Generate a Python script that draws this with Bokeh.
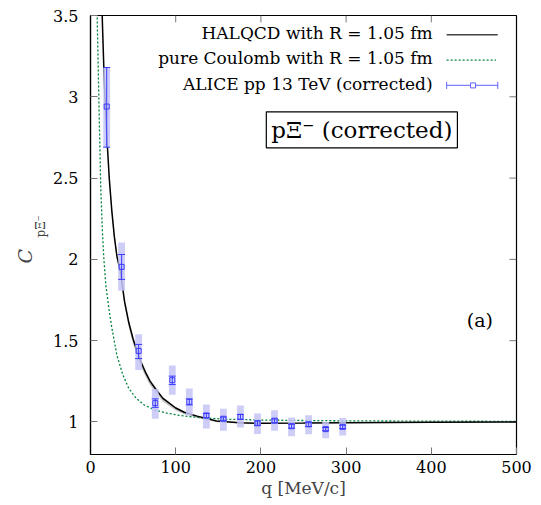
from bokeh.plotting import figure
from bokeh.models import Range1d, Label, FixedTicker, ColumnDataSource, Title
from bokeh.embed import file_html
from bokeh.resources import INLINE
import math

# ---------------- data ----------------
q_data = [19, 36.5, 56.5, 76, 96, 116, 136, 156, 176, 196, 216, 236, 256, 276, 296]
C_data = [2.94, 1.954, 1.437, 1.116, 1.257, 1.124, 1.04, 1.02, 1.032, 0.992, 1.008, 0.974, 0.986, 0.956, 0.97]
stat_lo = [2.69, 1.877, 1.39, 1.09, 1.23, 1.105, 1.026, 1.01, 1.016, 0.98, 0.996, 0.962, 0.972, 0.946, 0.96]
stat_hi = [3.18, 2.03, 1.477, 1.142, 1.282, 1.142, 1.052, 1.03, 1.046, 1.006, 1.018, 0.986, 0.998, 0.966, 0.98]
sys_lo = [2.69, 1.807, 1.32, 1.02, 1.167, 1.042, 0.96, 0.946, 0.966, 0.926, 0.946, 0.912, 0.924, 0.90, 0.917]
sys_hi = [3.18, 2.104, 1.54, 1.203, 1.347, 1.206, 1.108, 1.082, 1.102, 1.052, 1.072, 1.028, 1.042, 1.0, 1.024]

q_halqcd = [12, 14, 16, 18, 20, 22, 25, 28, 31, 35, 40, 45, 50, 55, 60, 65, 70, 76, 85, 100, 110, 125, 148, 175, 200, 250, 300, 400, 500]
C_halqcd = [3.85, 3.45, 3.12, 2.88, 2.68, 2.50, 2.30, 2.14, 2.02, 1.93, 1.74, 1.61, 1.51, 1.43, 1.36, 1.30, 1.25, 1.206, 1.145, 1.086, 1.06, 1.036, 1.006, 0.995, 0.992, 0.993, 0.995, 0.998, 1.0]
C_halqcd_lo = [3.83, 3.42, 3.09, 2.85, 2.65, 2.47, 2.27, 2.11, 1.99, 1.90, 1.71, 1.58, 1.48, 1.40, 1.33, 1.275, 1.225, 1.183, 1.125, 1.07, 1.047, 1.026, 0.999, 0.99, 0.989, 0.991, 0.994, 0.997, 1.0]
C_halqcd_hi = [3.87, 3.47, 3.14, 2.90, 2.70, 2.52, 2.32, 2.16, 2.04, 1.945, 1.755, 1.625, 1.525, 1.445, 1.375, 1.315, 1.262, 1.216, 1.153, 1.092, 1.065, 1.04, 1.009, 0.997, 0.993, 0.994, 0.996, 0.998, 1.0]

q_coulomb = [6, 7.8, 9.8, 12, 14, 15.6, 18, 21.5, 25, 31, 38, 45, 53, 62.5, 75, 88, 105, 129, 160, 200, 250, 300, 400, 500]
C_coulomb = [4.3, 3.5, 2.99, 2.45, 2.17, 2.01, 1.84, 1.70, 1.58, 1.41, 1.29, 1.206, 1.15, 1.106, 1.075, 1.056, 1.04, 1.026, 1.017, 1.012, 1.009, 1.007, 1.005, 1.004]

x_ticks = [0, 100, 200, 300, 400, 500]
y_ticks = [1, 1.5, 2, 2.5, 3, 3.5]
y_tick_labels = ["1", "1.5", "2", "2.5", "3", "3.5"]

legend_labels = ["HALQCD with R = 1.05 fm", "pure Coulomb with R = 1.05 fm", "ALICE pp 13 TeV (corrected)"]

# ---------------- styles ----------------
SERIF = "DejaVu Serif"
BLUE = "#3b3bff"
BOX = "#c4c4f6"
GREEN = "#00843c"
TICK = "#777777"

X0, X1, Y0, Y1 = 0, 500, 0.8, 3.5
p = figure(width=533, height=500, x_range=Range1d(X0, X1), y_range=Range1d(Y0, Y1),
           output_backend="svg", toolbar_location=None,
           min_border_left=90, min_border_right=17, min_border_top=15, min_border_bottom=36)
p.grid.visible = False
p.outline_line_color = "black"
p.outline_line_width = 1.2
p.background_fill_color = "white"
p.border_fill_color = "white"

for ax in (p.xaxis[0], p.yaxis[0]):
    ax.major_tick_in = 7
    ax.major_tick_out = 0
    ax.minor_tick_line_color = None
    ax.major_tick_line_color = TICK
    ax.axis_line_color = "black"
    ax.axis_line_width = 1.2
    ax.major_label_text_font = SERIF
    ax.major_label_text_font_size = "16px"
    ax.major_label_text_color = "black"

p.xaxis.ticker = FixedTicker(ticks=x_ticks)
p.yaxis.ticker = FixedTicker(ticks=y_ticks)
p.yaxis.major_label_overrides = {t: l for t, l in zip(y_ticks, y_tick_labels)}
p.xaxis.major_label_standoff = 6
p.yaxis.major_label_standoff = 12
p.xaxis.axis_label = "q [MeV/c]"
p.xaxis.axis_label_text_font = SERIF
p.xaxis.axis_label_text_font_size = "17px"
p.xaxis.axis_label_text_font_style = "normal"
p.xaxis.axis_label_standoff = 2

# y-axis label: subscript (closer to axis) then main letter
p.add_layout(Title(text="pΞ⁻", align="left", offset=217, standoff=6,
                   text_font=SERIF, text_font_size="12px", text_font_style="normal"), "left")
p.add_layout(Title(text="C", align="left", offset=191, standoff=-14,
                   text_font=SERIF, text_font_size="19px", text_font_style="italic"), "left")

# mirrored inward ticks on top and right sides
tick_dy = 7 / 449 * (Y1 - Y0)
tick_dx = 7 / 426 * (X1 - X0)
inner_x = [t for t in x_ticks if X0 < t < X1]
inner_y = [t for t in y_ticks if Y0 < t < Y1]
p.segment(x0=inner_x, y0=[Y1] * len(inner_x), x1=inner_x, y1=[Y1 - tick_dy] * len(inner_x), line_color=TICK, line_width=1)
p.segment(x0=[X1] * len(inner_y), y0=inner_y, x1=[X1 - tick_dx] * len(inner_y), y1=inner_y, line_color=TICK, line_width=1)

# theory band and curves
p.varea(x=q_halqcd, y1=C_halqcd_lo, y2=C_halqcd_hi, fill_color="#b0b0b0", fill_alpha=0.7)
p.line(q_coulomb, C_coulomb, line_color=GREEN, line_width=1.3, line_dash="2 2")
p.line(q_halqcd, C_halqcd, line_color="black", line_width=1.5)

# data
src = ColumnDataSource(dict(q=q_data, C=C_data, slo=stat_lo, shi=stat_hi,
                            ymid=[(a + b) / 2 for a, b in zip(sys_lo, sys_hi)],
                            yh=[b - a for a, b in zip(sys_lo, sys_hi)]))
p.rect(x="q", y="ymid", width=8, height="yh", source=src, fill_color=BOX, fill_alpha=0.85, line_color=None)
p.segment(x0="q", y0="slo", x1="q", y1="shi", source=src, line_color=BLUE, line_width=1)
p.scatter(x="q", y="slo", source=src, marker="dash", size=7, line_color=BLUE, line_width=1)
p.scatter(x="q", y="shi", source=src, marker="dash", size=7, line_color=BLUE, line_width=1)
p.scatter(x="q", y="C", source=src, marker="square", size=5, line_color=BLUE, fill_color=None, line_width=1)

# legend (manual, text right-aligned with sample on right)
lx_text = 401.5
lx0, lx1 = 418, 478
rows_y = [3.392, 3.236, 3.08]
for lab, yy in zip(legend_labels, rows_y):
    p.add_layout(Label(x=lx_text, y=yy, text=lab, text_align="right", text_baseline="middle",
                       text_font=SERIF, text_font_size="17px", text_color="black"))
p.line([lx0, lx1], [rows_y[0] - 0.01] * 2, line_color="#444444", line_width=1.6)
p.line([lx0, lx1 - 2], [rows_y[1] - 0.01] * 2, line_color=GREEN, line_width=1.3, line_dash="2 2")
yl = rows_y[2] - 0.01
p.line([lx0, lx1], [yl, yl], line_color="#8080ff", line_width=1.2)
p.scatter(x=[lx0, lx1], y=[yl, yl], marker="dash", size=7, angle=math.pi / 2, line_color="#6060ff", line_width=1)
p.scatter(x=[(lx0 + lx1) / 2 + 1], y=[yl], marker="square", size=5, line_color="#6060ff", fill_color="white", line_width=1)

# boxed label
p.add_layout(Label(x=318.5, y=2.797, text="pΞ⁻ (corrected)", text_align="center", text_baseline="middle",
                   text_font=SERIF, text_font_size="23px", text_color="black",
                   border_line_color="black", border_line_width=1.2, background_fill_color="white",
                   padding=5))
p.add_layout(Label(x=457, y=1.627, text="(a)", text_align="center", text_baseline="middle",
                   text_font=SERIF, text_font_size="19px", text_color="black"))

open("out.html", "w").write(file_html(p, INLINE))
